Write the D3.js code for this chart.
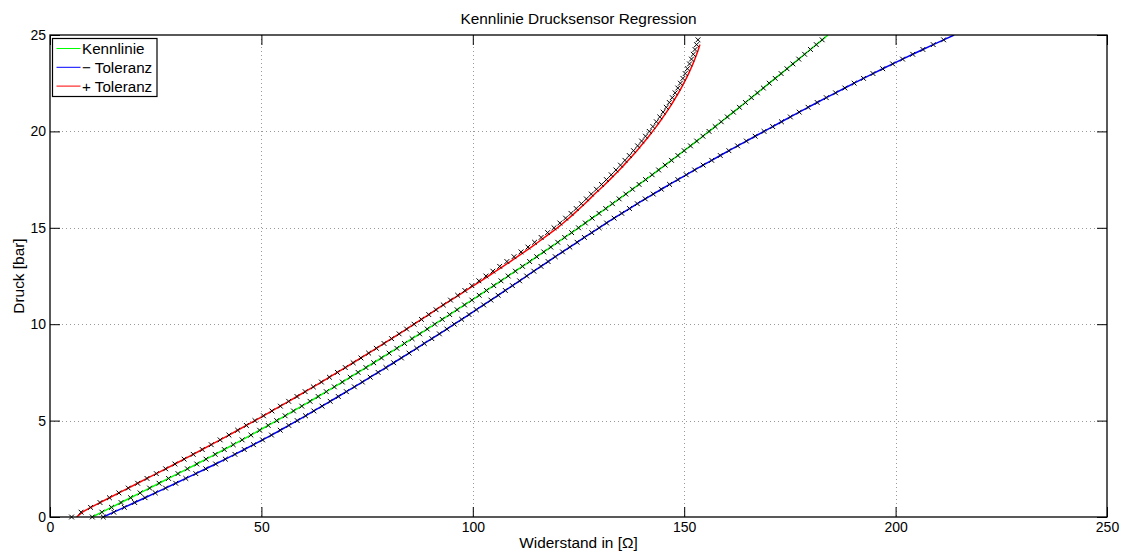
<!DOCTYPE html>
<html>
<head>
<meta charset="utf-8">
<script src="https://cdn.jsdelivr.net/npm/d3@7"></script>
<style>
  html, body { margin: 0; padding: 0; background: #fff; }
  svg { display: block; }
  text { font-family: "Liberation Sans", Arial, sans-serif; fill: #000; }
</style>
</head>
<body>
<svg id="chart" width="1126" height="555"></svg>
<script>
// Pressure levels [bar] at which each curve is sampled
const pressureLevels = [
  0, 0.25, 0.5, 0.75, 1, 1.25, 1.5, 1.75, 2, 2.25, 2.5,
  2.75, 3, 3.25, 3.5, 3.75, 4, 4.25, 4.5, 4.75, 5,
  5.25, 5.5, 5.75, 6, 6.25, 6.5, 6.75, 7, 7.25, 7.5,
  7.75, 8, 8.25, 8.5, 8.75, 9, 9.25, 9.5, 9.75, 10,
  10.25, 10.5, 10.75, 11, 11.25, 11.5, 11.75, 12, 12.25, 12.5,
  12.75, 13, 13.25, 13.5, 13.75, 14, 14.25, 14.5, 14.75, 15,
  15.25, 15.5, 15.75, 16, 16.25, 16.5, 16.75, 17, 17.25, 17.5,
  17.75, 18, 18.25, 18.5, 18.75, 19, 19.25, 19.5, 19.75, 20,
  20.25, 20.5, 20.75, 21, 21.25, 21.5, 21.75, 22, 22.25, 22.5,
  22.75, 23, 23.25, 23.5, 23.75, 24, 24.25, 24.5, 24.75, 25
];

// Kennlinie: resistance [Ohm] per pressure level
const kennlinieR = [
  10.00, 12.27, 14.54, 16.80, 19.06, 21.31, 23.56, 25.80, 28.04, 30.27, 32.50,
  34.71, 36.90, 39.07, 41.22, 43.34, 45.44, 47.52, 49.58, 51.61, 53.62,
  55.61, 57.59, 59.55, 61.50, 63.43, 65.35, 67.25, 69.14, 71.01, 72.87,
  74.72, 76.56, 78.39, 80.21, 82.03, 83.84, 85.64, 87.43, 89.22, 91.00,
  92.77, 94.53, 96.29, 98.04, 99.78, 101.51, 103.24, 104.96, 106.67, 108.37,
  110.07, 111.76, 113.44, 115.11, 116.78, 118.44, 120.09, 121.73, 123.37, 125.00,
  126.62, 128.23, 129.84, 131.44, 133.03, 134.61, 136.19, 137.76, 139.32, 140.87,
  142.42, 143.95, 145.48, 146.99, 148.50, 149.99, 151.48, 152.95, 154.42, 155.87,
  157.32, 158.76, 160.20, 161.63, 163.06, 164.48, 165.90, 167.31, 168.72, 170.12,
  171.52, 172.92, 174.31, 175.70, 177.09, 178.48, 179.86, 181.25, 182.63, 184.01
];

// - Toleranz: resistance [Ohm] per pressure level
const minusToleranzR = [
  12.60, 15.09, 17.57, 20.03, 22.48, 24.91, 27.33, 29.73, 32.12, 34.49, 36.85,
  39.18, 41.47, 43.73, 45.95, 48.13, 50.27, 52.38, 54.45, 56.48, 58.47,
  60.44, 62.40, 64.34, 66.27, 68.19, 70.10, 71.99, 73.87, 75.74, 77.60,
  79.45, 81.28, 83.11, 84.92, 86.73, 88.53, 90.31, 92.09, 93.86, 95.62,
  97.37, 99.11, 100.84, 102.56, 104.28, 105.99, 107.69, 109.38, 111.07, 112.75,
  114.43, 116.12, 117.81, 119.51, 121.22, 122.94, 124.66, 126.39, 128.13, 129.88,
  131.64, 133.42, 135.23, 137.06, 138.91, 140.78, 142.68, 144.60, 146.54, 148.50,
  150.48, 152.47, 154.48, 156.50, 158.53, 160.57, 162.63, 164.70, 166.78, 168.87,
  170.93, 173.00, 175.10, 177.20, 179.30, 181.45, 183.60, 185.80, 188.00, 190.20,
  192.40, 194.65, 196.95, 199.30, 201.65, 204.05, 206.45, 208.90, 211.35, 213.85
];

// + Toleranz: resistance [Ohm] per pressure level (0 ... 24.5 bar)
const plusToleranzR = [
  6.30, 7.65, 9.65, 11.83, 14.06, 16.29, 18.51, 20.73, 22.94, 25.15, 27.35,
  29.54, 31.72, 33.87, 36.01, 38.13, 40.24, 42.32, 44.39, 46.44, 48.47,
  50.49, 52.49, 54.48, 56.45, 58.41, 60.35, 62.28, 64.19, 66.09, 67.97,
  69.84, 71.70, 73.54, 75.37, 77.19, 79.00, 80.79, 82.57, 84.34, 86.10,
  87.85, 89.58, 91.31, 93.02, 94.83, 96.62, 98.41, 100.18, 101.95, 103.70,
  105.44, 107.16, 108.86, 110.54, 112.20, 113.84, 115.41, 116.96, 118.49, 120.00,
  121.39, 122.74, 124.02, 125.26, 126.48, 127.66, 128.82, 130.04, 131.24, 132.40,
  133.54, 134.65, 135.73, 136.78, 137.81, 138.81, 139.78, 140.72, 141.64, 142.53,
  143.39, 144.22, 145.03, 145.81, 146.56, 147.28, 147.98, 148.65, 149.29, 149.90,
  150.49, 151.04, 151.56, 152.06, 152.52, 152.95, 153.35, 153.72
];

// Measured points next to the + Toleranz curve (0 ... 24.75 bar)
const messwerteR = [
  5.10, 7.35, 9.59, 11.83, 14.06, 16.29, 18.51, 20.73, 22.94, 25.15, 27.35,
  29.54, 31.72, 33.87, 36.01, 38.13, 40.24, 42.32, 44.39, 46.44, 48.47,
  50.49, 52.49, 54.48, 56.45, 58.41, 60.35, 62.28, 64.19, 66.09, 67.97,
  69.84, 71.70, 73.54, 75.37, 77.19, 79.00, 80.79, 82.57, 84.34, 86.10,
  87.85, 89.58, 91.31, 93.02, 94.73, 96.42, 98.11, 99.78, 101.45, 103.10,
  104.74, 106.36, 108.06, 109.74, 111.40, 113.04, 114.61, 116.16, 117.69, 119.20,
  120.59, 121.94, 123.22, 124.46, 125.68, 126.86, 128.02, 129.24, 130.44, 131.60,
  132.74, 133.85, 134.93, 135.98, 137.01, 138.01, 138.98, 139.92, 140.84, 141.73,
  142.59, 143.42, 144.23, 145.01, 145.76, 146.48, 147.18, 147.85, 148.49, 149.10,
  149.69, 150.24, 150.76, 151.26, 151.72, 152.15, 152.55, 152.92, 153.26
];

const xTicks = [0, 50, 100, 150, 200, 250];
const yTicks = [0, 5, 10, 15, 20, 25];
const legendLabels = ["Kennlinie", "\u2212 Toleranz", "+ Toleranz"];
const titleText = "Kennlinie Drucksensor Regression";
const xLabelText = "Widerstand in [\u03A9]";
const yLabelText = "Druck [bar]";

// ---- layout ----
const svg = d3.select("#chart");
const plotLeft = 50, plotRight = 1107, plotTop = 35, plotBottom = 517;
const tickLen = 10;

const x = d3.scaleLinear().domain([0, 250]).range([plotLeft, plotRight]);
const y = d3.scaleLinear().domain([0, 25]).range([plotBottom, plotTop]);

const toPoints = vals => vals.map((r, i) => ({ r, p: pressureLevels[i] }));

svg.append("rect")
  .attr("x", plotLeft).attr("y", plotTop)
  .attr("width", plotRight - plotLeft).attr("height", plotBottom - plotTop)
  .attr("fill", "#fff");

// dotted grid
const grid = svg.append("g")
  .attr("stroke", "#9a9a9a")
  .attr("stroke-width", 1)
  .attr("stroke-dasharray", "1,3")
  .attr("shape-rendering", "crispEdges");
grid.selectAll("line.v")
  .data(xTicks.filter(t => t > 0 && t < 250))
  .join("line")
  .attr("x1", d => Math.round(x(d)) + 0.5).attr("x2", d => Math.round(x(d)) + 0.5)
  .attr("y1", plotTop).attr("y2", plotBottom);
grid.selectAll("line.h")
  .data(yTicks.filter(t => t > 0 && t < 25))
  .join("line")
  .attr("y1", d => Math.round(y(d)) + 0.5).attr("y2", d => Math.round(y(d)) + 0.5)
  .attr("x1", plotLeft).attr("x2", plotRight);

// curves
const line = d3.line().x(d => x(d.r)).y(d => y(d.p));
const plot = svg.append("g");
const clipId = "plotClip";
svg.append("clipPath").attr("id", clipId)
  .append("rect").attr("x", plotLeft).attr("y", plotTop)
  .attr("width", plotRight - plotLeft).attr("height", plotBottom - plotTop);

const series = [
  { vals: kennlinieR, color: "#00ff00" },
  { vals: minusToleranzR, color: "#0000ff" },
  { vals: plusToleranzR, color: "#ff0000" }
];
series.forEach(s => {
  plot.append("path")
    .datum(toPoints(s.vals))
    .attr("clip-path", `url(#${clipId})`)
    .attr("fill", "none")
    .attr("stroke", s.color)
    .attr("stroke-width", 1.5)
    .attr("d", line);
});

// x markers
const xMark = "M-2.4,-2.4L2.4,2.4M-2.4,2.4L2.4,-2.4";
[kennlinieR, minusToleranzR, messwerteR].forEach(vals => {
  plot.append("g")
    .selectAll("path")
    .data(toPoints(vals).filter(d => d.p < 25))
    .join("path")
    .attr("transform", d => `translate(${x(d.r)},${y(d.p)})`)
    .attr("d", xMark)
    .attr("fill", "none")
    .attr("stroke", "#000")
    .attr("stroke-width", 1);
});

// axes with inward ticks on all four sides
const axisStyle = g => {
  g.select(".domain").remove();
  g.selectAll(".tick line").attr("stroke", "#000").attr("stroke-width", 1);
  g.selectAll(".tick text")
    .attr("font-family", "'Liberation Sans', Arial, sans-serif")
    .attr("font-size", 14).attr("fill", "#000");
};
svg.append("g").attr("transform", `translate(0,${plotBottom})`)
  .call(d3.axisBottom(x).tickValues(xTicks).tickSizeInner(-tickLen).tickSizeOuter(0).tickPadding(5))
  .call(axisStyle);
svg.append("g").attr("transform", `translate(0,${plotTop})`)
  .call(d3.axisTop(x).tickValues(xTicks).tickSizeInner(-tickLen).tickSizeOuter(0).tickFormat(""))
  .call(axisStyle);
svg.append("g").attr("transform", `translate(${plotLeft},0)`)
  .call(d3.axisLeft(y).tickValues(yTicks).tickSizeInner(-tickLen).tickSizeOuter(0).tickPadding(4))
  .call(axisStyle);
svg.append("g").attr("transform", `translate(${plotRight},0)`)
  .call(d3.axisRight(y).tickValues(yTicks).tickSizeInner(-tickLen).tickSizeOuter(0).tickFormat(""))
  .call(axisStyle);

// box
svg.append("rect")
  .attr("x", plotLeft).attr("y", plotTop)
  .attr("width", plotRight - plotLeft).attr("height", plotBottom - plotTop)
  .attr("fill", "none").attr("stroke", "#000").attr("stroke-width", 1.3);

// titles
svg.append("text")
  .attr("x", (plotLeft + plotRight) / 2).attr("y", 24)
  .attr("text-anchor", "middle").attr("font-size", 15.4)
  .text(titleText);
svg.append("text")
  .attr("x", (plotLeft + plotRight) / 2).attr("y", 548)
  .attr("text-anchor", "middle").attr("font-size", 15.4)
  .text(xLabelText);
svg.append("text")
  .attr("transform", `translate(23.5,${(plotTop + plotBottom) / 2}) rotate(-90)`)
  .attr("text-anchor", "middle").attr("font-size", 15.4)
  .text(yLabelText);

// legend
const legend = svg.append("g");
legend.append("rect")
  .attr("x", 52.5).attr("y", 38.5).attr("width", 104.5).attr("height", 58)
  .attr("fill", "#fff").attr("stroke", "#000").attr("stroke-width", 1.2);
legendLabels.forEach((lab, i) => {
  const cy = 48.5 + i * 18.8;
  legend.append("line")
    .attr("x1", 56.5).attr("x2", 80.5).attr("y1", cy).attr("y2", cy)
    .attr("stroke", series[i].color).attr("stroke-width", 1);
  legend.append("text")
    .attr("x", 82).attr("y", cy + 5.4)
    .attr("font-size", 15.2)
    .text(lab);
});
</script>
</body>
</html>
